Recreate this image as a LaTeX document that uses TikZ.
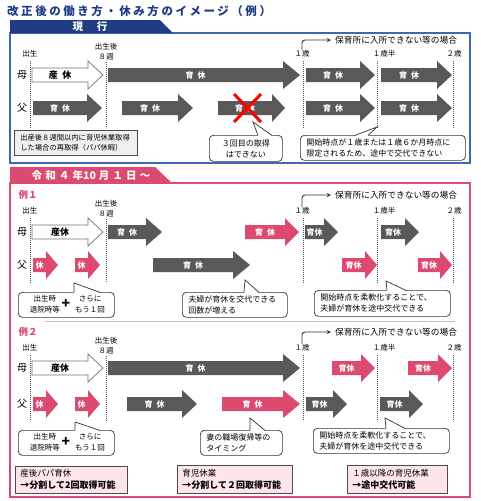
\documentclass[tikz,border=0pt]{standalone}
\usepackage{fontspec}
\setmainfont{Noto Sans CJK JP}
\newfontfamily\titlefont{Noto Sans CJK JP}[LetterSpace=22]
\newfontfamily\bannerfont{Noto Sans CJK JP}[LetterSpace=30]
\usetikzlibrary{arrows}
\definecolor{navyc}{HTML}{1F3C85}
\definecolor{frameblue}{HTML}{4068B2}
\definecolor{pinkc}{HTML}{DC4A70}
\definecolor{darkg}{HTML}{595959}
\definecolor{lightpink}{HTML}{FDE5EA}

% block arrow: style, name, x from, x to (tip), y, head length, text
\newcommand\blockarr[7]{%
  \fill[#1] (#3,#5-7) -- (#4-#6,#5-7) -- (#4-#6,#5-14) -- (#4,#5)
    -- (#4-#6,#5+14) -- (#4-#6,#5+7) -- (#3,#5+7) -- cycle;
  \node[arrtext] (#2) at ({(#3+#4-#6)/2},#5) {#7};}
% pointer of a callout: node, left and right offset of its base, tip
\newcommand\calloutptr[4]{%
  \fill[white] ([xshift=#2pt,yshift=-1pt]#1.north west) -- #4 -- ([xshift=#3pt,yshift=-1pt]#1.north west) -- cycle;
  \draw[callline] ([xshift=#2pt,yshift=-0.4pt]#1.north west) -- #4 -- ([xshift=#3pt,yshift=-0.4pt]#1.north west);}

\begin{document}
\begin{tikzpicture}[x=1pt,y=-1pt,
    lbl/.style={font=\fontsize{7.5}{10}\selectfont, inner sep=0pt, align=center},
    rowlbl/.style={font=\fontsize{10}{10}\selectfont, inner sep=0pt},
    nursery/.style={anchor=west, inner sep=0pt, font=\fontsize{8.7}{10}\selectfont},
    exlbl/.style={inner sep=0pt, text=pinkc, font=\bfseries\fontsize{9.5}{10}\selectfont},
    arrtext/.style={text=white, font=\bfseries\fontsize{8}{8}\selectfont, inner sep=0pt},
    wharr/.style={fill=white, draw=black!55, line width=0.7pt},
    dkarr/.style={fill=darkg},
    pkarr/.style={fill=pinkc},
    guide/.style={black!65, line width=0.8pt, dash pattern=on 0.8pt off 1.2pt},
    bentarrow/.style={-stealth, line width=0.9pt, rounded corners=3pt, black!80, shorten >=4pt},
    callout/.style={draw=black!80, line width=0.7pt, rounded corners=4pt, fill=white,
      inner xsep=6pt, inner ysep=2pt, font=\fontsize{8}{11}\selectfont, align=left, anchor=north west},
    callline/.style={draw=black!80, line width=0.7pt},
    ctext/.style={inner sep=0pt, align=center, font=\fontsize{7.5}{11}\selectfont},
    plus/.style={inner sep=0pt, font=\bfseries\fontsize{14}{14}\selectfont},
    notebox/.style={draw=black!70, fill=black!6, line width=0.7pt, inner xsep=6pt, inner ysep=2pt,
      font=\fontsize{7.3}{10}\selectfont, align=left, anchor=north west},
    sumbox/.style={draw=black!70, fill=lightpink, line width=0.7pt, inner xsep=5pt, inner ysep=2pt,
      font=\fontsize{8.5}{12}\selectfont, align=left, anchor=north west}]
\fill[white] (0,0) rectangle (481,501);
\useasboundingbox (0,0) rectangle (481,501);

\node[anchor=west, inner sep=0pt, text=navyc, font=\titlefont\bfseries\fontsize{11.5}{12}\selectfont] (title) at (7,11) {改正後の働き方・休み方のイメージ（例）};

%%% 現行
\draw[frameblue, line width=1.2pt] (10,33) rectangle (470,163);
\fill[navyc] (10,20) -- (160,20) -- (173,33) -- (10,33) -- cycle;
\node[text=white, font=\bfseries\fontsize{10.5}{11}\selectfont] (nowTitle) at (90,26.5) {現\hspace{14pt}行};

\node[lbl] (bornA) at (30,54) {出生};
\node[lbl] (weekA) at (106,51.5) {出生後\\８週};
\node[lbl] (oneA) at (302,54) {１歳};
\node[lbl] (halfA) at (384,54) {１歳半};
\node[lbl] (twoA) at (454,54) {２歳};
\node[nursery] (nurseryA) at (335,40) {保育所に入所できない等の場合};
\draw[bentarrow] (oneA.north) |- (nurseryA.west);
\draw[guide] (30,61) -- (30,128);
\draw[guide] (106,62) -- (106,128);
\draw[guide] (303,61) -- (303,128);
\draw[guide] (377,61) -- (377,128);
\draw[guide] (453,61) -- (453,128);

\node[rowlbl] (momA) at (22,75) {母};
\node[rowlbl] (dadA) at (22,108) {父};

\blockarr{wharr}{sanA}{32}{103}{75}{15}{\color{black}\fontsize{9}{9}\selectfont 産\enspace 休}
\blockarr{dkarr}{ikuA1}{108}{300}{75}{17}{育\enspace 休}
\blockarr{dkarr}{ikuA2}{306}{375}{75}{15}{育\enspace 休}
\blockarr{dkarr}{ikuA3}{381}{452}{75}{15}{育\enspace 休}
\blockarr{dkarr}{ikuA4}{33}{102}{108}{15}{育\enspace 休}
\blockarr{dkarr}{ikuA5}{122}{193}{108}{15}{育\enspace 休}
\blockarr{dkarr}{ikuA6}{218}{285}{108}{13}{育\enspace 休}
\blockarr{dkarr}{ikuA7}{306}{375}{108}{15}{育\enspace 休}
\blockarr{dkarr}{ikuA8}{381}{452}{108}{15}{育\enspace 休}
\draw[red, line width=3pt] (234,94) -- (261,122) (261,94) -- (234,122);

\node[notebox, text width=111pt, minimum height=25pt] (papaNote) at (14,130) {出産後８週間以内に育児休業取得\\した場合の再取得（パパ休暇）};
\node[callout, align=center, text width=61pt, minimum height=26pt] (thirdNote) at (209,135) {３回目の取得\\はできない};
\calloutptr{thirdNote}{49}{63}{(253,122)}
\node[callout, text width=153pt, minimum height=25pt] (startNote) at (300,135) {開始時点が１歳または１歳６か月時点に\\限定されるため、途中で交代できない};
\calloutptr{startNote}{55}{68}{(377,127)}

%%% 令和４年10月１日～
\draw[pinkc, line width=1.5pt] (10,183) rectangle (470,497);
\fill[pinkc] (10,167) -- (155,167) -- (172,183) -- (10,183) -- cycle;
\node[text=white, font=\bannerfont\bfseries\fontsize{10.5}{11}\selectfont] (newTitle) at (91,175) {令和４年{\normalfont\bfseries\fontsize{10.5}{11}\selectfont 10}\hspace{3pt}月１日～};

% 例1
\node[exlbl] (exA) at (28,195) {例１};
\node[lbl] (bornB) at (30,211) {出生};
\node[lbl] (weekB) at (106,208.5) {出生後\\８週};
\node[lbl] (oneB) at (302,211) {１歳};
\node[lbl] (halfB) at (384,211) {１歳半};
\node[lbl] (twoB) at (454,211) {２歳};
\node[nursery] (nurseryB) at (335,195) {保育所に入所できない等の場合};
\draw[bentarrow] (oneB.north) |- (nurseryB.west);
\draw[guide] (30,218) -- (30,283);
\draw[guide] (106,219) -- (106,283);
\draw[guide] (303,218) -- (303,283);
\draw[guide] (377,218) -- (377,283);
\draw[guide] (453,218) -- (453,283);

\node[rowlbl] (momB) at (22,232) {母};
\node[rowlbl] (dadB) at (22,265) {父};

\blockarr{wharr}{sanB}{32}{103}{232}{15}{\color{black}\fontsize{9}{9}\selectfont 産休}
\blockarr{dkarr}{ikuB1}{108}{162}{232}{16}{育\enspace 休}
\blockarr{pkarr}{ikuB2}{245}{299}{232}{14}{育\enspace 休}
\blockarr{dkarr}{ikuB3}{305}{338}{232}{14}{育休}
\blockarr{dkarr}{ikuB4}{381}{419}{232}{14}{育休}
\blockarr{pkarr}{kyuB1}{33}{58}{265}{12}{休}
\blockarr{pkarr}{kyuB2}{75}{100}{265}{12}{休}
\blockarr{dkarr}{ikuB5}{153}{250}{265}{17}{育\enspace 休}
\blockarr{pkarr}{ikuB6}{342}{377}{265}{12}{育休}
\blockarr{pkarr}{ikuB7}{418}{452}{265}{12}{育休}

\node[callout, minimum width=96pt, minimum height=25pt] (birthNoteA) at (18,292) {};
\calloutptr{birthNoteA}{56}{82}{(74,283)}
\node[ctext] (birthA) at (45,304) {出生時\\退院時等};
\node[plus] (plusA) at (66,304) {+};
\node[ctext] (againA) at (90,304) {さらに\\もう１回};
\node[callout, text width=93pt, minimum height=25pt] (swapNote) at (182,292) {夫婦が育休を交代できる\\回数が増える};
\calloutptr{swapNote}{62}{77}{(245,280)}
\node[callout, text width=124pt, minimum height=26pt] (flexNoteA) at (314,290) {開始時点を柔軟化することで、\\夫婦が育休を途中交代できる};
\calloutptr{flexNoteA}{73}{92}{(386,281)}

\draw[black!25, line width=0.8pt] (45,321) -- (455,321);

% 例2
\node[exlbl] (exB) at (28,332) {例２};
\node[lbl] (bornC) at (30,348) {出生};
\node[lbl] (weekC) at (106,345.5) {出生後\\８週};
\node[lbl] (oneC) at (302,348) {１歳};
\node[lbl] (halfC) at (384,348) {１歳半};
\node[lbl] (twoC) at (454,348) {２歳};
\node[nursery] (nurseryC) at (335,332) {保育所に入所できない等の場合};
\draw[bentarrow] (oneC.north) |- (nurseryC.west);
\draw[guide] (30,355) -- (30,421);
\draw[guide] (106,356) -- (106,421);
\draw[guide] (303,355) -- (303,421);
\draw[guide] (377,355) -- (377,421);
\draw[guide] (453,355) -- (453,421);

\node[rowlbl] (momC) at (22,368) {母};
\node[rowlbl] (dadC) at (22,404) {父};

\blockarr{wharr}{sanC}{32}{103}{368}{15}{\color{black}\fontsize{9}{9}\selectfont 産休}
\blockarr{dkarr}{ikuC1}{108}{300}{368}{17}{育\enspace 休}
\blockarr{pkarr}{ikuC2}{332}{375}{368}{14}{育休}
\blockarr{pkarr}{ikuC3}{408}{452}{368}{14}{育休}
\blockarr{pkarr}{kyuC1}{33}{58}{404}{12}{休}
\blockarr{pkarr}{kyuC2}{75}{100}{404}{12}{休}
\blockarr{dkarr}{ikuC4}{127}{197}{404}{15}{育\enspace 休}
\blockarr{pkarr}{ikuC5}{222}{300}{404}{17}{育\enspace 休}
\blockarr{dkarr}{ikuC6}{306}{347}{404}{14}{育休}
\blockarr{dkarr}{ikuC7}{380}{423}{404}{14}{育休}

\node[callout, minimum width=96pt, minimum height=25pt] (birthNoteB) at (18,430) {};
\calloutptr{birthNoteB}{57}{82}{(75,422)}
\node[ctext] (birthB) at (45,442) {出生時\\退院時等};
\node[plus] (plusB) at (66,442) {+};
\node[ctext] (againB) at (90,442) {さらに\\もう１回};
\node[callout, text width=70pt, minimum height=25pt] (wifeNote) at (200,430) {妻の職場復帰等の\\タイミング};
\calloutptr{wifeNote}{50}{65}{(250,418)}
\node[callout, text width=124pt, minimum height=25pt] (flexNoteB) at (313,428) {開始時点を柔軟化することで、\\夫婦が育休を途中交代できる};
\calloutptr{flexNoteB}{73}{92}{(385,418)}

\node[sumbox, text width=102pt, minimum height=27pt] (papaBox) at (15,466) {産後パパ育休\\{\bfseries\fontsize{9}{12}\selectfont →分割して2回取得可能}};
\node[sumbox, text width=105pt, minimum height=28pt] (ikujiBox) at (177,465) {育児休業\\{\bfseries\fontsize{9}{12}\selectfont →分割して２回取得可能}};
\node[sumbox, text width=90pt, minimum height=28pt] (oneBox) at (347,465) {１歳以降の育児休業\\{\bfseries\fontsize{9}{12}\selectfont →途中交代可能}};
\end{tikzpicture}
\end{document}
